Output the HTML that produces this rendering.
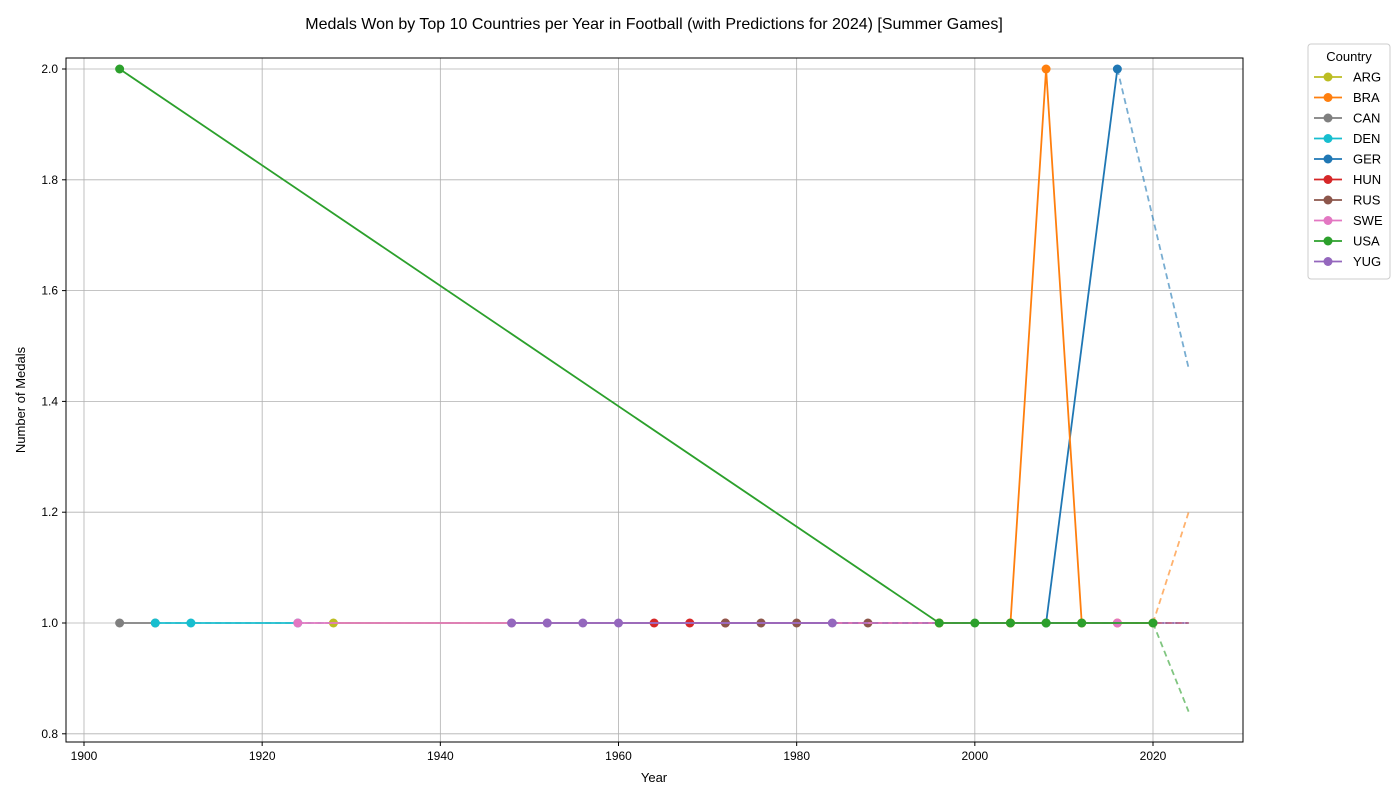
<!DOCTYPE html>
<html><head><meta charset="utf-8"><style>
body{margin:0;background:#fff;width:1400px;height:800px;overflow:hidden}
svg text{font-family:"Liberation Sans","DejaVu Sans",sans-serif}
</style></head><body>
<svg id="chart" width="1400" height="800">
<rect x="66" y="58" width="1177" height="684" fill="#fff" stroke="none"/>
<g id="grid"></g><g id="series"></g>
<rect x="66" y="58" width="1177" height="684" fill="none" stroke="#000" stroke-width="1"/>
<g id="ticks"></g>
<text x="654" y="29" font-size="16" text-anchor="middle">Medals Won by Top 10 Countries per Year in Football (with Predictions for 2024) [Summer Games]</text>
<text x="654" y="782" font-size="13" text-anchor="middle">Year</text>
<text x="25" y="400" font-size="13" text-anchor="middle" transform="rotate(-90 25 400)">Number of Medals</text>
<g id="legend"></g>
</svg>
<script>
const countries=["ARG","BRA","CAN","DEN","GER","HUN","RUS","SWE","USA","YUG"];
const colors=["#bcbd22","#ff7f0e","#7f7f7f","#17becf","#1f77b4","#d62728","#8c564b","#e377c2","#2ca02c","#9467bd"];
const years={
ARG:[1928,1996,2004,2008],
BRA:[1996,2004,2008,2012,2016,2020],
CAN:[1904,1908],
DEN:[1908,1912,1924],
GER:[2008,2016],
HUN:[1964,1968,1972],
RUS:[1972,1976,1980,1988],
SWE:[1924,1948,1952,2016],
USA:[1904,1996,2000,2004,2008,2012,2020],
YUG:[1948,1952,1956,1960,1984]};
const medals={
ARG:[1,1,1,1],BRA:[1,1,2,1,1,1],CAN:[1,1],DEN:[1,1,1],GER:[1,2],HUN:[1,1,1],
RUS:[1,1,1,1],SWE:[1,1,1,1],USA:[2,1,1,1,1,1,1],YUG:[1,1,1,1,1]};
const pred2024={ARG:1,BRA:1.2,CAN:1,DEN:1,GER:1.46,HUN:1,RUS:1,SWE:1,USA:0.84,YUG:1};
const drawOrder=["CAN","DEN","ARG","HUN","RUS","GER","BRA","SWE","YUG","USA"];
const xTicks=[1900,1920,1940,1960,1980,2000,2020];
const yTicks=[0.8,1.0,1.2,1.4,1.6,1.8,2.0];
const X=y=>84+(y-1900)*(1069/120);
const Y=v=>623-(v-1)*554;
const NS="http://www.w3.org/2000/svg";
function mk(t,a,p){const e=document.createElementNS(NS,t);for(const k in a)e.setAttribute(k,a[k]);p.appendChild(e);return e;}
const grid=document.getElementById('grid'),ticks=document.getElementById('ticks'),ser=document.getElementById('series'),leg=document.getElementById('legend');
xTicks.forEach(t=>{const x=X(t);
const g=mk('line',{x1:x,x2:x,y1:58,y2:742,stroke:'#b0b0b0','stroke-width':0.8},grid);

mk('line',{x1:x,x2:x,y1:742,y2:746,stroke:'#000'},ticks);
const tx=mk('text',{x:x,y:760,'font-size':12,'text-anchor':'middle'},ticks);tx.textContent=t;
});
yTicks.forEach(t=>{const y=Y(t);
const g=mk('line',{x1:66,x2:1243,y1:y,y2:y,stroke:'#b0b0b0','stroke-width':0.8},grid);

mk('line',{x1:62,x2:66,y1:y,y2:y,stroke:'#000'},ticks);
const tx=mk('text',{x:58,y:y+4,'font-size':12,'text-anchor':'end'},ticks);tx.textContent=t.toFixed(1);
});
drawOrder.forEach(c=>{const i=countries.indexOf(c);const col=colors[i];const ys=years[c],ms=medals[c];
const g=mk('g',{},ser);

const pts=ys.map((y,j)=>X(y)+','+Y(ms[j])).join(' ');
mk('polyline',{points:pts,fill:'none',stroke:col,'stroke-width':1.8},g);
const ly=ys[ys.length-1],lv=ms[ms.length-1];
const d=mk('line',{x1:X(ly),y1:Y(lv),x2:X(2024),y2:Y(pred2024[c]),stroke:col,'stroke-width':1.8,'stroke-dasharray':'6,4',opacity:0.6},g);

ys.forEach((y,j)=>{const p=mk('circle',{cx:X(y),cy:Y(ms[j]),r:4.5,fill:col},g);
});
});
const lb=mk('rect',{x:1308,y:44,width:82,height:235,rx:3,fill:'#fff',stroke:'#ccc'},leg);

const lt=mk('text',{x:1349,y:61,'font-size':13,'text-anchor':'middle'},leg);lt.textContent='Country';

countries.forEach((c,i)=>{const y=77+i*20.5;const g=mk('g',{},leg);

mk('line',{x1:1314,x2:1342,y1:y,y2:y,stroke:colors[i],'stroke-width':1.8},g);
mk('circle',{cx:1328,cy:y,r:4.5,fill:colors[i]},g);
const t=mk('text',{x:1353,y:y+4.5,'font-size':13},g);t.textContent=c;});
</script>
</body></html>
